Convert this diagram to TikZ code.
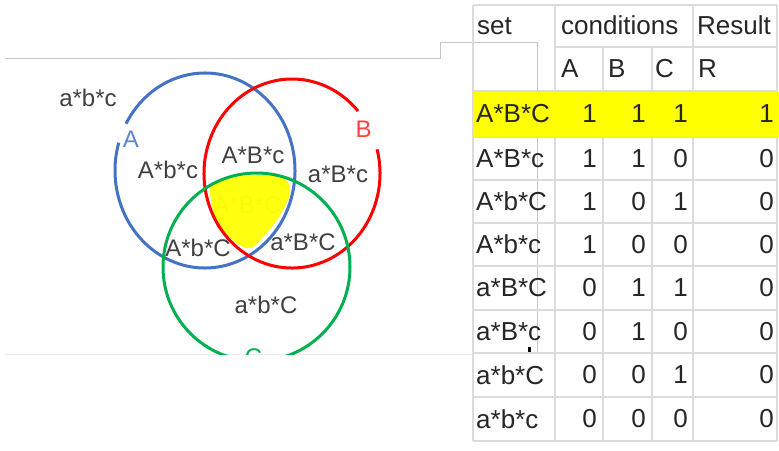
\documentclass[tikz,border=0pt]{standalone}
\usepackage{fontspec}
\setmainfont{Liberation Sans}
\begin{document}
\begin{tikzpicture}[x=1pt,y=-1pt,
  venntxt/.style={inner sep=0pt, text=black!75, font=\fontsize{24}{24}\selectfont},
  setlbl/.style={inner sep=0pt, font=\fontsize{24}{24}\selectfont},
  tabtxt/.style={inner sep=0pt, text=black!85, font=\fontsize{26}{26}\selectfont},
  tabrule/.style={draw=black!14, line width=2.4pt},
  panelline/.style={draw=black!22, line width=0.9pt},
  ring/.style={line width=3pt}]
\definecolor{ringA}{HTML}{4472C4}
\definecolor{ringB}{HTML}{FF0000}
\definecolor{ringC}{HTML}{00B050}
\definecolor{lblA}{HTML}{5B86D8}
\definecolor{lblB}{HTML}{FF4040}
\definecolor{hilite}{HTML}{FFFF00}
\useasboundingbox (0,0) rectangle (779,450);
\fill[white] (0,0) rectangle (779,450);

% ---------- outline of the Venn panel ----------
\draw[panelline] (5,58) -- (440,58) -- (440,42) -- (537,42) -- (537,353);
\draw[draw=black!8, line width=0.9pt] (5,354) -- (472,354);
\fill[black] (528,347) rectangle (530.5,352.5);

% ---------- Venn diagram ----------
\node[venntxt, text=black!40] (abcAll) at (247.5,205) {A*B*C};
\fill[hilite, opacity=0.94] plot[smooth cycle, tension=0.55] coordinates {
  (210,190) (215,183) (233,177) (263,175) (283,178) (290,187) (288,200)
  (277,220) (263,237) (253,247) (243,247) (227,235) (215,217)};

% circle A with a gap for its label
\draw[ring, ringA] ([shift={(205,170.5)}]208.7:90 and 97.5)
  arc[start angle=208.7, end angle=556.6, x radius=90, y radius=97.5];
% circle B with a gap for its label
\draw[ring, ringB] ([shift={(292,173.5)}]345.2:88 and 94.5)
  arc[start angle=345.2, end angle=678.6, x radius=88, y radius=94.5];
% circle C, cut off by the panel edge
\begin{scope}
  \clip (0,0) rectangle (779,354);
  \draw[ring, ringC] (256.5,267) ellipse[x radius=93.5, y radius=94];
  \node[setlbl, text=ringC] (lblC) at (253.5,357) {C};
\end{scope}

\node[setlbl, text=lblA] (lblA) at (131,139) {A};
\node[setlbl, text=lblB] (lblB) at (363.5,129) {B};

\node[venntxt] (abc)  at (88,98)   {a*b*c};
\node[venntxt] (Abc)  at (168,170) {A*b*c};
\node[venntxt] (ABc)  at (253,155) {A*B*c};
\node[venntxt] (aBc)  at (338,174) {a*B*c};
\node[venntxt] (AbC)  at (198,248) {A*b*C};
\node[venntxt] (aBC)  at (303,242) {a*B*C};
\node[venntxt] (abC)  at (266,305) {a*b*C};

% ---------- truth table ----------
% horizontal rules
\draw[tabrule] (473,5) -- (777,5);
\draw[tabrule] (555,47) -- (777,47);
\foreach \y in {91,137,180,223,266,310,353,397,441}
  \draw[tabrule] (473,\y) -- (777,\y);
% vertical rules
\foreach \x in {473,555,693,777}
  \draw[tabrule] (\x,5) -- (\x,441);
\foreach \x in {603,652}
  \draw[tabrule] (\x,47) -- (\x,441);
% highlighted row
\fill[hilite] (473,92) rectangle (779,137);

\node[tabtxt, anchor=west] (hSet)  at (477,26) {set};
\node[tabtxt, anchor=west] (hCond) at (561,25) {conditions};
\node[tabtxt, anchor=west] (hRes)  at (697,25) {Result};
\node[tabtxt, anchor=west] (hA) at (561,69) {A};
\node[tabtxt, anchor=west] (hB) at (608,69) {B};
\node[tabtxt, anchor=west] (hC) at (655,69) {C};
\node[tabtxt, anchor=west] (hR) at (698,69) {R};

\foreach \i/\yc/\s/\a/\b/\c/\r in {
  1/114/A*B*C/1/1/1/1,
  2/158.5/A*B*c/1/1/0/0,
  3/201.5/A*b*C/1/0/1/0,
  4/244.5/A*b*c/1/0/0/0,
  5/288/a*B*C/0/1/1/0,
  6/331.5/a*B*c/0/1/0/0,
  7/375/a*b*C/0/0/1/0,
  8/419/a*b*c/0/0/0/0} {
  \node[tabtxt, anchor=west] (set\i) at (476,\yc) {\s};
  \node[tabtxt, anchor=east] (va\i) at (597,\yc) {\a};
  \node[tabtxt, anchor=east] (vb\i) at (646,\yc) {\b};
  \node[tabtxt, anchor=east] (vc\i) at (688,\yc) {\c};
  \node[tabtxt, anchor=east] (vr\i) at (774,\yc) {\r};
}
\end{tikzpicture}
\end{document}
